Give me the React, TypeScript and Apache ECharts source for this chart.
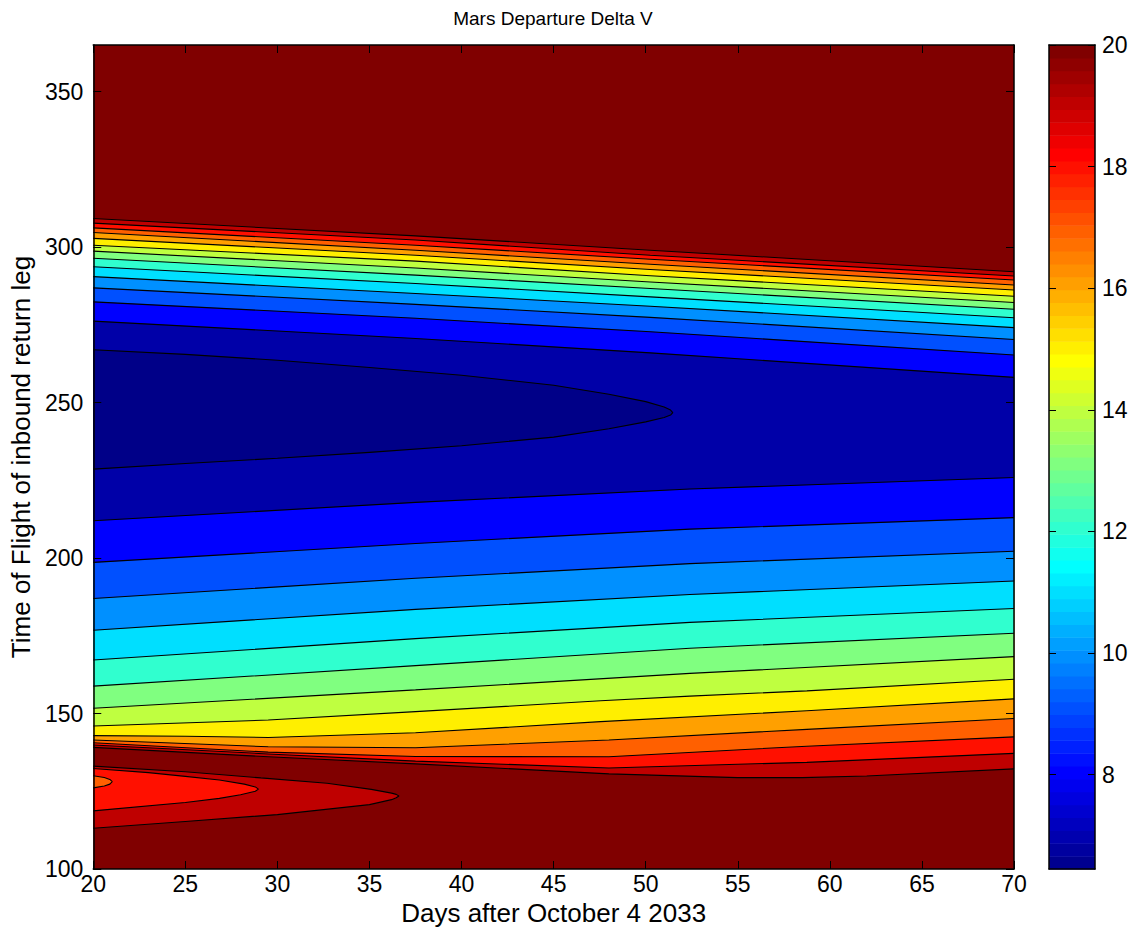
import React, { useEffect, useRef } from "react";
import * as echarts from "echarts";

type Pt = [number, number];

// ---------- axes ----------
const X_TICKS = [20, 25, 30, 35, 40, 45, 50, 55, 60, 65, 70];
const Y_TICKS = [100, 150, 200, 250, 300, 350];
const CB_TICKS = [8, 10, 12, 14, 16, 18, 20];
const X_MIN = 20;
const X_MAX = 70;
const Y_MIN = 100;
const Y_MAX = 365;
const CB_MIN = 6.45;
const CB_MAX = 20;

// contour levels and the fill colour of the band just below each level
const LEVELS = [7, 8, 9, 10, 11, 12, 13, 14, 15, 16, 17, 18, 19, 20];
const BAND_COLORS = [
  "#000088", // < 7
  "#0000A8", // 7-8
  "#0000FF", // 8-9
  "#0050FF", // 9-10
  "#0090FF", // 10-11
  "#00DFFF", // 11-12
  "#30FFCF", // 12-13
  "#80FF80", // 13-14
  "#BFFF40", // 14-15
  "#FFEF00", // 15-16
  "#FFA000", // 16-17
  "#FF6000", // 17-18
  "#FF1000", // 18-19
  "#BF0000", // 19-20
  "#800000", // >= 20
];

// ---------- contour lines ----------
// level 7: closed curve around the minimum (touches left edge)
const level7: Pt[] = [
  [20, 267.0], [25, 265.5], [30, 263.6], [35, 261.3], [40, 258.8], [45, 255.6],
  [48, 252.7], [50, 250.3], [51, 248.6], [51.35, 247.6], [51.47, 246.8],
  [51.35, 246.0], [51, 245.2], [50, 243.8], [48, 241.6], [45, 238.9],
  [40, 236.1], [35, 234.0], [30, 232.1], [25, 230.4], [20, 228.6],
];

// upper branches
const upper8: Pt[] = [[20, 276.2], [37.5, 270.6], [50.25, 266.0], [70, 258.1]];
const upper9: Pt[] = [[20, 282.4], [37.5, 277.1], [50.25, 272.8], [70, 265.3]];
const upper10: Pt[] = [[20, 286.9], [37.5, 281.6], [50.25, 277.4], [70, 270.3]];
const upper11: Pt[] = [[20, 290.5], [37.5, 285.1], [50.25, 281.0], [70, 274.1]];
const upper12: Pt[] = [[20, 293.7], [37.5, 288.3], [50.25, 284.0], [70, 277.3]];
const upper13: Pt[] = [[20, 296.4], [37.5, 291.0], [50.25, 286.7], [70, 280.0]];
const upper14: Pt[] = [[20, 298.7], [37.5, 293.3], [50.25, 288.8], [70, 282.2]];
const upper15: Pt[] = [[20, 300.6], [37.5, 295.5], [50.25, 290.8], [70, 284.2]];
const upper16: Pt[] = [[20, 302.8], [37.5, 297.4], [50.25, 292.8], [70, 286.2]];
const upper17: Pt[] = [[20, 304.7], [37.5, 299.0], [50.25, 294.5], [70, 287.8]];
const upper18: Pt[] = [[20, 306.2], [37.5, 300.6], [50.25, 296.1], [70, 289.4]];
const upper19: Pt[] = [[20, 307.7], [37.5, 302.3], [50.25, 297.4], [70, 290.7]];
const upper20: Pt[] = [[20, 309.2], [37.5, 303.6], [50.25, 299.0], [70, 292.1]];

// lower branches
const lower8: Pt[] = [[20, 212.0], [37.5, 217.9], [52.4, 222.2], [70, 225.9]];
const lower9: Pt[] = [[20, 198.6], [37.5, 204.7], [52.4, 209.3], [70, 213.0]];
const lower10: Pt[] = [[20, 187.0], [37.5, 193.5], [52.4, 198.2], [70, 202.2]];
const lower11: Pt[] = [[20, 176.8], [37.5, 183.5], [52.4, 188.3], [70, 192.6]];
const lower12: Pt[] = [[20, 167.2], [37.5, 174.1], [52.4, 179.3], [70, 183.8]];
const lower13: Pt[] = [[20, 158.8], [37.5, 165.4], [52.4, 171.0], [70, 175.8]];
const lower14: Pt[] = [[20, 151.7], [37.5, 157.6], [52.4, 162.9], [70, 168.3]];
const lower15: Pt[] = [[20, 146.0], [29.5, 147.9], [37.5, 150.6], [47.55, 154.1], [52.4, 155.6], [58.75, 157.3], [70, 161.0]];
const lower16: Pt[] = [[20, 142.9], [25, 142.7], [29.5, 142.3], [37.5, 143.8], [47.55, 147.4], [58.75, 150.9], [70, 154.7]];
const lower17: Pt[] = [[20, 141.5], [29.5, 139.3], [37.5, 139.0], [48, 141.5], [58.75, 144.9], [70, 148.4]];
const lower18: Pt[] = [[20, 140.6], [29.5, 137.6], [37.5, 136.2], [48, 136.1], [58.75, 139.5], [70, 142.5]];
const lower19: Pt[] = [[20, 139.9], [29.5, 137.0], [37.5, 134.7], [48, 132.5], [58.75, 134.3], [70, 137.2]];
const lower20: Pt[] = [[20, 139.1], [29.5, 136.1], [37.5, 133.8], [48, 130.6], [55, 129.4], [58.5, 129.4], [62, 129.9], [70, 132.2]];

// closed loops near the bottom-left (touch the left edge)
const loop18: Pt[] = [[20, 130.0], [20.6, 129.4], [20.9, 128.8], [21.03, 128.1], [20.9, 127.3], [20.6, 126.7], [20, 126.1]];
const loop19: Pt[] = [
  [20, 132.3], [23, 131.0], [25, 129.8], [26.85, 128.6], [28.2, 127.3], [28.8, 126.4], [28.97, 125.7],
  [28.8, 125.0], [28, 123.9], [26.85, 122.7], [25, 121.4], [20, 118.7],
];
const loop20: Pt[] = [
  [20, 133.1], [25, 131.3], [29.1, 129.3], [32.7, 127.6], [35.1, 125.6], [36.2, 124.4], [36.45, 124.0], [36.6, 123.5],
  [36.45, 122.9], [36.2, 122.3], [35, 120.7], [30, 117.5], [25, 115.3], [20, 113.1],
];

const UPPER: Record<number, Pt[]> = {
  8: upper8, 9: upper9, 10: upper10, 11: upper11, 12: upper12, 13: upper13, 14: upper14,
  15: upper15, 16: upper16, 17: upper17, 18: upper18, 19: upper19, 20: upper20,
};
const LOWER: Record<number, Pt[]> = {
  8: lower8, 9: lower9, 10: lower10, 11: lower11, 12: lower12, 13: lower13, 14: lower14,
  15: lower15, 16: lower16, 17: lower17, 18: lower18, 19: lower19, 20: lower20,
};
const LOOPS: Record<number, Pt[]> = { 18: loop18, 19: loop19, 20: loop20 };

// ---------- jet colormap (64 entries, MATLAB style) ----------
function jet64(k: number): string {
  const u = (j: number) => {
    if (j < 1 || j > 47) return 0;
    if (j <= 16) return j / 16;
    if (j <= 31) return 1;
    return (48 - j) / 16;
  };
  const r = u(k - 24);
  const g = u(k - 8);
  const b = u(k + 8);
  const h = (v: number) => Math.round(v * 255).toString(16).padStart(2, "0");
  return "#" + h(r) + h(g) + h(b);
}

const FONT = "Liberation Sans, Arial, Helvetica, sans-serif";
const TICK_FS = 23;
const NAME_FS = 26;
const TITLE_FS = 19;

export default function App() {
  const ref = useRef<HTMLDivElement>(null);

  useEffect(() => {
    if (!ref.current) return;
    const chart = echarts.init(ref.current, undefined, { renderer: "svg" });

    type Poly = { points: Pt[]; color: string };
    const polys: Poly[] = [];
    for (let L = 20; L >= 8; L--) {
      const color = BAND_COLORS[L - 7];
      polys.push({ points: [...UPPER[L], ...[...LOWER[L]].reverse()], color });
      if (LOOPS[L]) polys.push({ points: LOOPS[L], color });
    }
    polys.push({ points: level7, color: BAND_COLORS[0] });

    const contourLines: Pt[][] = [];
    LEVELS.forEach((L) => {
      if (L === 7) contourLines.push(level7);
      if (UPPER[L]) contourLines.push(UPPER[L]);
      if (LOWER[L]) contourLines.push(LOWER[L]);
      if (LOOPS[L]) contourLines.push(LOOPS[L]);
    });

    const cbStep = (CB_MAX - CB_MIN) / 64;
    const cbCells = Array.from({ length: 64 }, (_, i) => [0, CB_MIN + i * cbStep, CB_MIN + (i + 1) * cbStep, i + 1]);

    const lineStyleAxis = { color: "#000", width: 1.5 };
    const tickStyle = { color: "#000", width: 1 };
    const tickLabel = { color: "#000", fontSize: TICK_FS, fontFamily: FONT };
    const nameStyle = { color: "#000", fontSize: NAME_FS, fontFamily: FONT };

    const option: any = {
      animation: false,
      backgroundColor: "#fff",
      graphic: [
        {
          type: "text",
          x: 553,
          y: 18,
          style: {
            text: "Mars Departure Delta V",
            fill: "#000",
            fontSize: TITLE_FS,
            fontFamily: FONT,
            align: "center",
            verticalAlign: "middle",
          },
        },
      ],
      grid: [
        { left: 92, top: 45, width: 922, height: 824, show: true, backgroundColor: BAND_COLORS[14], borderWidth: 0 },
        { left: 1049, top: 45, width: 46, height: 824, show: false },
      ],
      xAxis: [
        {
          gridIndex: 0, type: "value", min: X_MIN, max: X_MAX, interval: 5, position: "bottom", z: 10,
          axisLine: { show: true, onZero: false, lineStyle: lineStyleAxis },
          axisTick: { show: true, inside: true, length: 8, lineStyle: tickStyle, customValues: X_TICKS },
          axisLabel: { ...tickLabel, margin: 3, customValues: X_TICKS },
          splitLine: { show: false },
          name: "Days after October 4 2033", nameLocation: "middle", nameGap: 31, nameTextStyle: nameStyle,
        },
        {
          gridIndex: 0, type: "value", min: X_MIN, max: X_MAX, interval: 5, position: "top", z: 10,
          axisLine: { show: true, onZero: false, lineStyle: lineStyleAxis },
          axisTick: { show: true, inside: true, length: 8, lineStyle: tickStyle, customValues: X_TICKS },
          axisLabel: { show: false },
          splitLine: { show: false },
        },
        {
          gridIndex: 1, type: "value", min: 0, max: 1, position: "bottom", z: 10,
          axisLine: { show: true, onZero: false, lineStyle: lineStyleAxis },
          axisTick: { show: false }, axisLabel: { show: false }, splitLine: { show: false },
        },
        {
          gridIndex: 1, type: "value", min: 0, max: 1, position: "top", z: 10,
          axisLine: { show: true, onZero: false, lineStyle: lineStyleAxis },
          axisTick: { show: false }, axisLabel: { show: false }, splitLine: { show: false },
        },
      ],
      yAxis: [
        {
          gridIndex: 0, type: "value", min: Y_MIN, max: Y_MAX, interval: 50, position: "left", z: 10,
          axisLine: { show: true, onZero: false, lineStyle: lineStyleAxis },
          axisTick: { show: true, inside: true, length: 8, lineStyle: tickStyle, customValues: Y_TICKS },
          axisLabel: { ...tickLabel, margin: 10, customValues: Y_TICKS },
          splitLine: { show: false },
          name: "Time of Flight of inbound return leg", nameLocation: "middle", nameRotate: 90, nameGap: 57,
          nameTextStyle: nameStyle,
        },
        {
          gridIndex: 0, type: "value", min: Y_MIN, max: Y_MAX, interval: 50, position: "right", z: 10,
          axisLine: { show: true, onZero: false, lineStyle: lineStyleAxis },
          axisTick: { show: true, inside: true, length: 8, lineStyle: tickStyle, customValues: Y_TICKS },
          axisLabel: { show: false },
          splitLine: { show: false },
        },
        {
          gridIndex: 1, type: "value", min: CB_MIN, max: CB_MAX, position: "right", z: 10,
          axisLine: { show: true, onZero: false, lineStyle: lineStyleAxis },
          axisTick: { show: true, inside: true, length: 7, lineStyle: tickStyle, customValues: CB_TICKS },
          axisLabel: { ...tickLabel, margin: 7, customValues: CB_TICKS },
          splitLine: { show: false },
        },
        {
          gridIndex: 1, type: "value", min: CB_MIN, max: CB_MAX, position: "left", z: 10,
          axisLine: { show: true, onZero: false, lineStyle: lineStyleAxis },
          axisTick: { show: true, inside: true, length: 7, lineStyle: tickStyle, customValues: CB_TICKS },
          axisLabel: { show: false },
          splitLine: { show: false },
        },
      ],
      series: [
        {
          type: "custom",
          xAxisIndex: 0,
          yAxisIndex: 0,
          z: 1,
          silent: true,
          clip: true,
          data: polys.map((p) => [p.points[0][0], p.points[0][1]]),
          renderItem: (params: any, api: any) => {
            const poly = polys[params.dataIndex];
            const pts = poly.points.map((p) => api.coord(p));
            return {
              type: "polygon",
              shape: { points: pts },
              style: { fill: poly.color, stroke: poly.color, lineWidth: 0.3 },
            };
          },
        },
        ...contourLines.map((pts) => ({
          type: "line",
          xAxisIndex: 0,
          yAxisIndex: 0,
          z: 3,
          silent: true,
          symbol: "none",
          data: pts,
          lineStyle: { color: "#000", width: 1.1 },
        })),
        {
          type: "custom",
          xAxisIndex: 2,
          yAxisIndex: 2,
          z: 1,
          silent: true,
          data: cbCells,
          renderItem: (params: any, api: any) => {
            const lo = api.value(1);
            const hi = api.value(2);
            const k = api.value(3);
            const p0 = api.coord([0, hi]);
            const p1 = api.coord([1, lo]);
            return {
              type: "rect",
              shape: { x: p0[0], y: p0[1], width: p1[0] - p0[0], height: p1[1] - p0[1] + 0.6 },
              style: { fill: jet64(k) },
            };
          },
        },
      ],
    };

    chart.setOption(option);
    return () => chart.dispose();
  }, []);

  return (
    <div
      ref={ref}
      style={{ position: "absolute", left: 0, top: 0, width: 1135, height: 931, background: "#fff" }}
    />
  );
}
